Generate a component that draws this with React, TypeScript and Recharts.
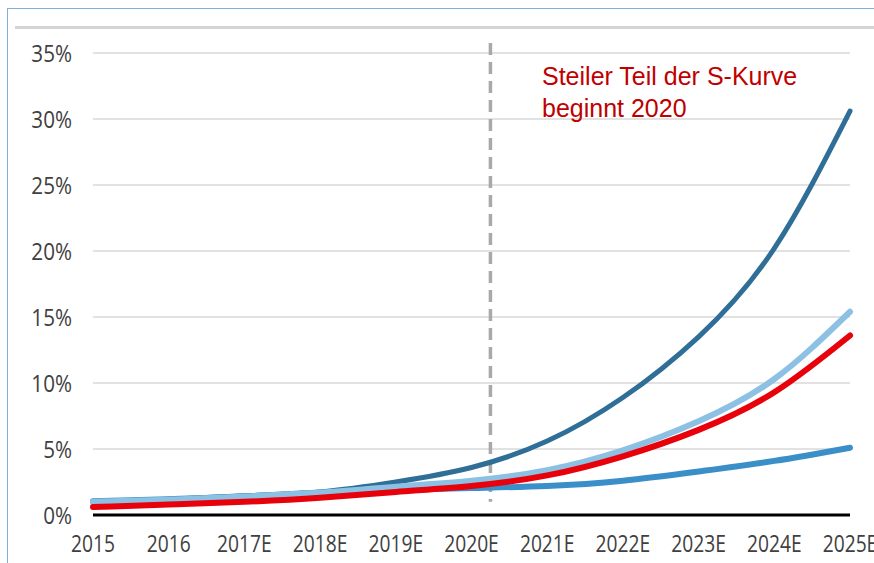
// S-curve adoption chart: four scenarios, 2015-2025E, with a dashed marker at 2020.

import * as React from 'react';
import { CartesianGrid, Line, LineChart, ReferenceLine, XAxis, YAxis } from 'recharts';

const years = [2015, 2016, 2017, 2018, 2019, 2020, 2021, 2022, 2023, 2024, 2025];
const yearLabels = ['2015', '2016', '2017E', '2018E', '2019E', '2020E', '2021E', '2022E', '2023E', '2024E', '2025E'];

// share in percent
const darkBlue = [1.05, 1.2, 1.45, 1.75, 2.5, 3.6, 5.6, 8.9, 13.5, 20.2, 30.6];
const mediumBlue = [1.05, 1.2, 1.4, 1.7, 1.9, 2.05, 2.2, 2.6, 3.3, 4.1, 5.1];
const lightBlue = [1.0, 1.15, 1.4, 1.7, 2.15, 2.6, 3.4, 4.9, 7.1, 10.3, 15.4];
const red = [0.6, 0.8, 1.0, 1.3, 1.75, 2.2, 3.0, 4.45, 6.45, 9.3, 13.6];

const yTicks = [0, 5, 10, 15, 20, 25, 30, 35];
const markerYear = 2020.25;
const annotation = ['Steiler Teil der S-Kurve', 'beginnt 2020'];

const data = years.map((year, i) => ({
  year,
  darkBlue: darkBlue[i],
  mediumBlue: mediumBlue[i],
  lightBlue: lightBlue[i],
  red: red[i],
}));

const series = [
  { key: 'darkBlue', color: '#2E6E97', width: 5 },
  { key: 'mediumBlue', color: '#3A8FC9', width: 6 },
  { key: 'lightBlue', color: '#8CC1E3', width: 6 },
  { key: 'red', color: '#E8000B', width: 6 },
];

const TICK_FONT = "'Open Sans', 'DejaVu Sans', sans-serif";

// Calibri-like narrow ticks: squeeze a regular sans horizontally
function XTick({ x, y, payload }: any) {
  return (
    <text
      transform={`translate(${x},${y}) scale(0.8,1)`}
      textAnchor='middle'
      dy='0.71em'
      fontFamily={TICK_FONT}
      fontSize={24}
      fill='#404040'
    >
      {yearLabels[years.indexOf(payload.value)]}
    </text>
  );
}

function YTick({ x, y, payload }: any) {
  return (
    <text
      transform={`translate(${x},${y}) scale(0.86,1)`}
      textAnchor='end'
      dy='0.36em'
      fontFamily={TICK_FONT}
      fontSize={24}
      fill='#404040'
    >
      {`${payload.value}%`}
    </text>
  );
}

export default function App() {
  return (
    <div
      style={{
        position: 'absolute',
        left: 0,
        top: 0,
        width: 874,
        height: 563,
        overflow: 'hidden',
        background: '#fff',
      }}
    >
      {/* frame */}
      <div style={{ position: 'absolute', left: 7, top: 8, width: 1, height: 555, background: '#7FB0DE' }} />
      <div style={{ position: 'absolute', left: 7, top: 8, width: 867, height: 1, background: '#7FB0DE' }} />
      <div style={{ position: 'absolute', left: 15, top: 26, width: 859, height: 3, background: '#D4D4D4' }} />

      <LineChart
        width={874}
        height={563}
        data={data}
        margin={{ top: 53, right: 24, bottom: 0, left: 0 }}
        style={{ position: 'absolute', left: 0, top: 0, overflow: 'visible' }}
      >
        <CartesianGrid horizontal vertical={false} stroke='#D9D9D9' strokeWidth={1.5} />
        <XAxis
          dataKey='year'
          type='number'
          domain={[2015, 2025]}
          ticks={years}
          interval={0}
          tick={<XTick />}
          tickLine={false}
          tickSize={0}
          tickMargin={20}
          axisLine={{ stroke: '#000', strokeWidth: 3 }}
          height={48}
        />
        <YAxis
          domain={[0, 35]}
          ticks={yTicks}
          interval={0}
          tick={<YTick />}
          tickLine={false}
          tickSize={0}
          tickMargin={21}
          axisLine={false}
          width={93}
        />
        <ReferenceLine
          segment={[
            { x: markerYear, y: 35.75 },
            { x: markerYear, y: 1.0 },
          ]}
          ifOverflow='visible'
          stroke='#A9A9A9'
          strokeWidth={3.5}
          strokeDasharray='12 7'
        />
        {series.map((s) => (
          <Line
            key={s.key}
            type='natural'
            dataKey={s.key}
            stroke={s.color}
            strokeWidth={s.width}
            strokeLinecap='round'
            dot={false}
            activeDot={false}
            isAnimationActive={false}
          />
        ))}
      </LineChart>

      <div
        style={{
          position: 'absolute',
          left: 542,
          top: 60,
          fontFamily: "'Liberation Sans', Arial, sans-serif",
          fontSize: 25,
          lineHeight: '32px',
          color: '#C00000',
          whiteSpace: 'nowrap',
        }}
      >
        {annotation.map((line) => (
          <div key={line}>{line}</div>
        ))}
      </div>
    </div>
  );
}
